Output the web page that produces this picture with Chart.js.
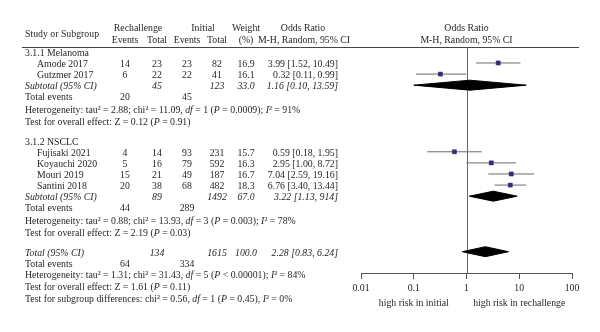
<!DOCTYPE html>
<html>
<head>
<meta charset="utf-8">
<script src="https://cdn.jsdelivr.net/npm/chart.js@4"></script>
<style>
    body { margin: 0; background: #fff; }
    #wrap { width: 600px; height: 332px; position: relative; }
</style>
</head>
<body>
<div id="wrap"><canvas id="forest"></canvas></div>
<script>
// study level data
const groupNames = ['3.1.1 Melanoma', '3.1.2 NSCLC']
const studies = ['Amode 2017', 'Gutzmer 2017', 'Fujisaki 2021', 'Koyauchi 2020', 'Mouri 2019', 'Santini 2018']
const studyGroup = [0, 0, 1, 1, 1, 1]
const reEvents = [14, 6, 4, 5, 15, 20]
const reTotal = [23, 22, 14, 16, 21, 38]
const inEvents = [23, 22, 93, 79, 49, 68]
const inTotal = [82, 41, 231, 592, 187, 482]
const weights = [16.9, 16.1, 15.7, 16.3, 16.7, 18.3]
const orEst = [3.99, 0.32, 0.59, 2.95, 7.04, 6.76]
const orLow = [1.52, 0.11, 0.18, 1.00, 2.59, 3.40]
const orHigh = [10.49, 0.99, 1.95, 8.72, 19.16, 13.44]

// pooled rows: subtotal melanoma, subtotal nsclc, total
const pooledNames = ['Subtotal (95% CI)', 'Subtotal (95% CI)', 'Total (95% CI)']
const pooledReTotal = [45, 89, 134]
const pooledInTotal = [123, 1492, 1615]
const pooledWeight = ['33.0', '67.0', '100.0']
const pooledEst = [1.16, 3.22, 2.28]
const pooledLow = [0.10, 1.13, 0.83]
const pooledHigh = [13.59, 9.14, 6.24]
const pooledCiText = ['1.16 [0.10, 13.59]', '3.22 [1.13, 914]', '2.28 [0.83, 6.24]']
const pooledReEvents = [20, 44, 64]
const pooledInEvents = [45, 289, 334]
// *...* = italic
const heterogeneity = [
    'Heterogeneity: tau² = 2.88; chi² = 11.09, *df* = 1 (*P* = 0.0009); *I*² = 91%',
    'Heterogeneity: tau² = 0.88; chi² = 13.93, *df* = 3 (*P* = 0.003); *I*² = 78%',
    'Heterogeneity: tau² = 1.31; chi² = 31.43, *df* = 5 (*P* < 0.00001); *I*² = 84%'
]
const overallTests = [
    'Test for overall effect: Z = 0.12 (*P* = 0.91)',
    'Test for overall effect: Z = 2.19 (*P* = 0.03)',
    'Test for overall effect: Z = 1.61 (*P* = 0.11)'
]
const subgroupTest = 'Test for subgroup differences: chi² = 0.56, *df* = 1 (*P* = 0.45), *I*² = 0%'
const xTicks = [0.01, 0.1, 1, 10, 100]
const favoursLabels = ['high risk in initial', 'high risk in rechallenge']

// row layout (row units, 0 = first group header)
const groupStart = [0, 8]
const totalStart = 18
function studyRow(i) {
    let g = studyGroup[i]
    let k = studyGroup.slice(0, i).filter(s => s === g).length
    return groupStart[g] + 1 + k
}
function pooledRow(p) {
    if (p < 2) {
        return groupStart[p] + 1 + studyGroup.filter(s => s === p).length
    }
    return totalStart
}

const FONT = '9.8px "Liberation Serif", "DejaVu Serif", serif'
const TXT = '#231f20'
const TY = 1.5 // text sits a bit lower than the marks
const COL = { name: 25, study: 37, reEv: 125, reTot: 157, inEv: 187, inTot: 217, weight: 246, ci: 338 }

function drawRich(ctx, str, x, y) {
    let parts = str.split('*')
    parts.forEach((p, i) => {
        ctx.font = (i % 2 ? 'italic ' : '') + FONT
        ctx.fillText(p, x, y)
        x += ctx.measureText(p).width
    })
}
function cell(ctx, txt, x, y, align, italic) {
    ctx.font = (italic ? 'italic ' : '') + FONT
    ctx.textAlign = align
    ctx.fillText(String(txt), x, y)
    ctx.textAlign = 'left'
}

const tablePlugin = {
    id: 'table',
    beforeDatasetsDraw(chart) {
        let ctx = chart.ctx
        let xs = chart.scales.x
        let area = chart.chartArea
        // line of no effect
        ctx.save()
        ctx.strokeStyle = '#666'
        ctx.lineWidth = 1
        let x1 = Math.round(xs.getPixelForValue(1)) + 0.5
        ctx.beginPath()
        ctx.moveTo(x1, area.top)
        ctx.lineTo(x1, area.bottom)
        ctx.stroke()
        ctx.restore()
    },
    afterDraw(chart) {
        let ctx = chart.ctx
        let xs = chart.scales.x
        let ys = chart.scales.y
        let area = chart.chartArea
        let rowY = (r) => ys.getPixelForValue(r) + TY
        ctx.save()
        ctx.fillStyle = TXT
        ctx.textBaseline = 'middle'

        // header
        let h1 = area.top - 19, h2 = area.top - 7
        cell(ctx, 'Study or Subgroup', COL.name, area.top - 13, 'left')
        cell(ctx, 'Rechallenge', (COL.reEv + COL.reTot) / 2 - 3, h1, 'center')
        cell(ctx, 'Events', COL.reEv, h2, 'center')
        cell(ctx, 'Total', COL.reTot, h2, 'center')
        cell(ctx, 'Initial', (COL.inEv + COL.inTot) / 2 + 1, h1, 'center')
        cell(ctx, 'Events', COL.inEv, h2, 'center')
        cell(ctx, 'Total', COL.inTot, h2, 'center')
        cell(ctx, 'Weight', COL.weight, h1, 'center')
        cell(ctx, '(%)', COL.weight, h2, 'center')
        cell(ctx, 'Odds Ratio', 303, h1, 'center')
        cell(ctx, 'M-H, Random, 95% CI', 304, h2, 'center')
        let xc = xs.getPixelForValue(1)
        cell(ctx, 'Odds Ratio', xc, h1, 'center')
        cell(ctx, 'M-H, Random, 95% CI', xc, h2, 'center')

        ctx.strokeStyle = '#444'
        ctx.lineWidth = 1
        ctx.beginPath()
        ctx.moveTo(22, Math.round(area.top) + 0.5)
        ctx.lineTo(579, Math.round(area.top) + 0.5)
        ctx.stroke()

        // group headers
        groupNames.forEach((g, i) => cell(ctx, g, COL.name, rowY(groupStart[i]), 'left'))

        // studies
        studies.forEach((s, i) => {
            let y = rowY(studyRow(i))
            cell(ctx, s, COL.study, y, 'left')
            cell(ctx, reEvents[i], COL.reEv, y, 'center')
            cell(ctx, reTotal[i], COL.reTot, y, 'center')
            cell(ctx, inEvents[i], COL.inEv, y, 'center')
            cell(ctx, inTotal[i], COL.inTot, y, 'center')
            cell(ctx, weights[i].toFixed(1), COL.weight, y, 'center')
            cell(ctx, `${orEst[i].toFixed(2)} [${orLow[i].toFixed(2)}, ${orHigh[i].toFixed(2)}]`, COL.ci, y, 'right')
        })

        // pooled rows and their footnotes
        pooledNames.forEach((p, i) => {
            let r = pooledRow(i)
            let y = rowY(r)
            cell(ctx, p, COL.name, y, 'left', true)
            cell(ctx, pooledReTotal[i], COL.reTot, y, 'center', true)
            cell(ctx, pooledInTotal[i], COL.inTot, y, 'center', true)
            cell(ctx, pooledWeight[i], COL.weight, y, 'center', true)
            cell(ctx, pooledCiText[i], COL.ci, y, 'right', true)

            let ye = rowY(r + 1)
            cell(ctx, 'Total events', COL.name, ye, 'left')
            cell(ctx, pooledReEvents[i], COL.reEv, ye, 'center')
            cell(ctx, pooledInEvents[i], COL.inEv, ye, 'center')
            ctx.textAlign = 'left'
            let extra = i < 2 ? 0.1 : 0
            drawRich(ctx, heterogeneity[i], COL.name, rowY(r + 2 + extra))
            drawRich(ctx, overallTests[i], COL.name, rowY(r + 3.1 + extra))
            if (i === 2) {
                drawRich(ctx, subgroupTest, COL.name, rowY(r + 4.2))
            }
        })

        // favours labels under the axis
        ctx.font = FONT
        ctx.textAlign = 'center'
        ctx.fillText(favoursLabels[0], xs.getPixelForValue(0.1), area.bottom + 30)
        ctx.fillText(favoursLabels[1], xs.getPixelForValue(10), area.bottom + 30)
        ctx.restore()
    }
}

// datasets
let datasets = []
datasets.push({
    label: 'estimates',
    data: orEst.map((v, i) => ({ x: v, y: studyRow(i) })),
    pointStyle: 'rect',
    pointRadius: 2.9,
    backgroundColor: '#2f2f7f',
    borderColor: '#24245f',
    borderWidth: 0.5,
    showLine: false,
    order: 0
})
studies.forEach((s, i) => {
    datasets.push({
        label: s,
        data: [{ x: orLow[i], y: studyRow(i) }, { x: orHigh[i], y: studyRow(i) }],
        showLine: true,
        borderColor: '#6a6a6a',
        borderWidth: 1,
        pointRadius: 0,
        order: 1
    })
})
const DH = 0.45
pooledNames.forEach((p, i) => {
    let r = pooledRow(i)
    datasets.push({
        label: p,
        data: [
            { x: pooledLow[i], y: r },
            { x: pooledEst[i], y: r - DH },
            { x: pooledHigh[i], y: r },
            { x: pooledEst[i], y: r + DH },
            { x: pooledLow[i], y: r }
        ],
        showLine: true,
        fill: 'shape',
        backgroundColor: '#000',
        borderColor: '#000',
        borderWidth: 1,
        pointRadius: 0,
        order: 1
    })
})

new Chart(document.getElementById('forest'), {
    type: 'scatter',
    data: { datasets: datasets },
    options: {
        responsive: true,
        maintainAspectRatio: false,
        animation: false,
        layout: { padding: { left: 361, right: 28, top: 47, bottom: 0 } },
        plugins: { legend: { display: false }, tooltip: { enabled: false } },
        scales: {
            x: {
                type: 'logarithmic',
                min: 0.01,
                max: 100,
                afterBuildTicks: (scale) => { scale.ticks = xTicks.map(v => ({ value: v })) },
                afterFit: (scale) => { scale.height = 59 },
                ticks: {
                    autoSkip: false,
                    maxRotation: 0,
                    padding: 4,
                    color: TXT,
                    font: { family: '"Liberation Serif", serif', size: 9.8 },
                    callback: (v) => String(v)
                },
                grid: { display: true, drawOnChartArea: false, drawTicks: true, tickLength: 6, color: '#555' },
                border: { display: true, color: '#555' }
            },
            y: {
                type: 'linear',
                reverse: true,
                min: -0.44,
                max: 19.92,
                display: false
            }
        }
    },
    plugins: [tablePlugin]
})
</script>
</body>
</html>
